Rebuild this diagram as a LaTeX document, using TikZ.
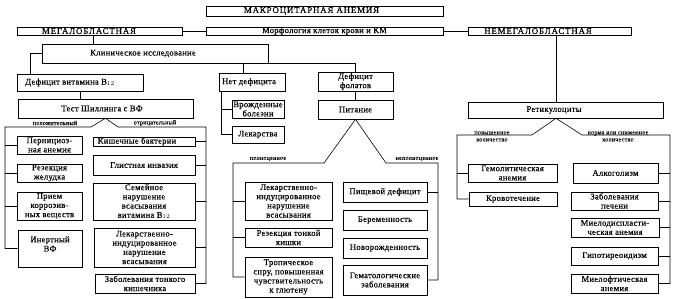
\documentclass[tikz,border=0pt]{standalone}
\usepackage{fontspec}
\setmainfont[LetterSpace=3,FakeBold=0.3]{Liberation Serif}
\newfontfamily\capsfont[LetterSpace=10,FakeBold=0.3]{Liberation Serif}
\newfontfamily\lblfont[LetterSpace=3,FakeBold=0.15]{Liberation Serif}
\tikzset{
  bx/.style={draw, line width=0.6pt, inner sep=0pt, align=center, font=\fontsize{8.6}{9.2}\selectfont},
  capsbx/.style={font=\capsfont\fontsize{8.8}{9}\selectfont},
  lbl/.style={inner sep=0pt, align=center, font=\lblfont\fontsize{6.2}{7}\selectfont},
  ln/.style={line width=0.6pt},
}
\newcommand\mybox[7][]{\node[bx,#1, minimum width={#5-#3}, minimum height={#6-#4}] (#2) at ({(#3+#5)/2},{(#4+#6)/2}) {#7};}
\begin{document}
\begin{tikzpicture}[x=1pt,y=-1pt]
\useasboundingbox (0,0) rectangle (678,299);
% top rows
\mybox[capsbx]{T}{206}{6}{443}{16}{МАКРОЦИТАРНАЯ АНЕМИЯ\kern26pt}
\mybox[capsbx]{Mega}{17}{27}{182}{35}{МЕГАЛОБЛАСТНАЯ\kern21pt}
\mybox{Morph}{206}{27}{443}{35}{Морфология клеток крови и КМ}
\mybox[capsbx]{Nemega}{468}{27}{631}{35}{НЕМЕГАЛОБЛАСТНАЯ\kern23pt}
\mybox{Clin}{42}{44}{268}{63}{Клиническое исследование\kern24pt}
\mybox{B12}{17}{74}{143}{91}{Дефицит витамина B$_{12}$\kern20pt}
\mybox{Net}{219}{73}{285}{91}{Нет дефицита\kern6pt}
\mybox{Fol}{318}{72}{393}{91}{Дефицит\\фолатов}
% Schilling branch
\mybox{Test}{18}{99}{193}{118}{Тест Шиллинга с ВФ\kern7pt}
\mybox{Pern}{17}{136}{82}{154}{Пернициоз-\\ная анемия}
\mybox{Rez}{17}{164}{82}{182}{Резекция\\желудка}
\mybox{Priem}{17}{192}{82}{220}{Прием\\коррозив-\\ных веществ}
\mybox{Inert}{18}{230}{82}{267}{Инертный\\ВФ\\\mbox{}}
\mybox{Kish}{93}{137}{195}{146}{Кишечные бактерии\kern14pt}
\mybox{Glist}{93}{155}{195}{175}{Глистная инвазия}
\mybox{Sem}{93}{183}{195}{220}{Семейное\\нарушение\\всасывания\\витамина B$_{12}$}
\mybox{LekA}{94}{228}{195}{267}{Лекарственно-\\индуцированное\\нарушение\\всасывания}
\mybox{Zab}{95}{274}{195}{293}{Заболевания тонкого\\кишечника}
% no deficit
\mybox{Vrozh}{232}{100}{284}{118}{Врожденные\\болезни}
\mybox{Leks}{232}{126}{284}{143}{Лекарства}
% folate
\mybox{Pit}{318}{100}{393}{119}{Питание}
\mybox{LekB}{245}{182}{332}{220}{Лекарственно-\\индуцированное\\нарушение\\всасывания}
\mybox{RezT}{245}{228}{332}{247}{Резекция тонкой\\кишки}
\mybox{Trop}{245}{257}{332}{297}{Тропическое\\спру, повышенная\\чувствительность\\к глютену}
\mybox{Pish}{343}{182}{427}{202}{Пищевой дефицит}
\mybox{Ber}{343}{210}{427}{230}{Беременность}
\mybox{Nov}{343}{238}{427}{258}{Новорожденность}
\mybox{Gem}{343}{265}{427}{295}{Гематологические\\заболевания}
% reticulocytes
\mybox{Ret}{468}{102}{663}{118}{Ретикулоциты\kern23pt}
\mybox{Gemol}{468}{164}{557}{182}{Гемолитическая\\анемия}
\mybox{Krov}{469}{192}{557}{206}{Кровотечение}
\mybox{Alk}{573}{163}{658}{183}{Алкоголизм}
\mybox{Pech}{571}{192}{658}{210}{Заболевания\\печени}
\mybox{Mielod}{571}{218}{659}{237}{Миелодиспласти-\\ческая анемия}
\mybox{Gipo}{571}{247}{658}{265}{Гипотиреоидизм}
\mybox{Mieloft}{571}{274}{658}{293}{Миелофтическая\\анемия}
% labels
\node[lbl] (lpos) at (55,123) {положительный};
\node[lbl] (lneg) at (155,123) {отрицательный};
\node[lbl] (lfull) at (268,159) {полноценное};
\node[lbl] (lnfull) at (417,159) {неполноценное};
\node[lbl] (lup) at (492,136.5) {повышенное\\количество};
\node[lbl] (lnorm) at (618,136.5) {норма или сниженное\\количество};
% connectors
\draw[ln] (Mega.east) -- (Morph.west);
\draw[ln] (Morph.east) -- (Nemega.west);
\draw[ln] (Nemega.south -| 556,0) -- (Ret.north -| 556,0);
\draw[ln] (Mega.south -| 93,0) -- (Clin.north -| 93,0);
\draw[ln] (Clin.west) -| (B12.north -| 30,0);
\draw[ln] (Clin.south east) -| (Fol.north);
\draw[ln] (Clin.south -| 243,0) -- (Net.north -| 243,0);
\draw[ln] (B12.south) -- (Test.north -| B12.south);
% Schilling triangle
\draw[ln] (Test.south) -- (91,127) -| (Inert.west -| 5,0) -- (Inert.west);
\foreach \n in {Pern,Rez,Priem} \draw[ln] (\n.west -| 5,0) -- (\n.west);
\draw[ln] (Test.south) -- (118,127) -| (Zab.east -| 206,0) -- (Zab.east);
\foreach \n in {Kish,Glist,Sem,LekA} \draw[ln] (\n.east -| 206,0) -- (\n.east);
% no deficit
\draw[ln] (Net.south -| 221,0) |- (Leks.west);
\draw[ln] (Vrozh.west -| 221,0) -- (Vrozh.west);
% folate
\draw[ln] (Fol.south) -- (Pit.north);
\draw[ln] (Pit.south) -- (324,163) -| (Trop.west -| 233,0) -- (Trop.west);
\foreach \n in {LekB,RezT} \draw[ln] (\n.west -| 233,0) -- (\n.west);
\draw[ln] (Pit.south) -- (386,163) -| (Gem.east -| 438,0) -- (Gem.east);
\draw[ln] (Pish.east -| 438,0) -- (Pish.east);
% reticulocytes
\coordinate (rapex) at (Ret.south -| 556,0);
\draw[ln] (rapex) -- (532,135) -| (Krov.west -| 457,0) -- (Krov.west);
\draw[ln] (Gemol.west -| 457,0) -- (Gemol.west);
\draw[ln] (rapex) -- (582,135) -| (Mieloft.east -| 670,0) -- (Mieloft.east);
\foreach \n in {Alk,Pech,Mielod,Gipo} \draw[ln] (\n.east -| 670,0) -- (\n.east);
\end{tikzpicture}
\end{document}
